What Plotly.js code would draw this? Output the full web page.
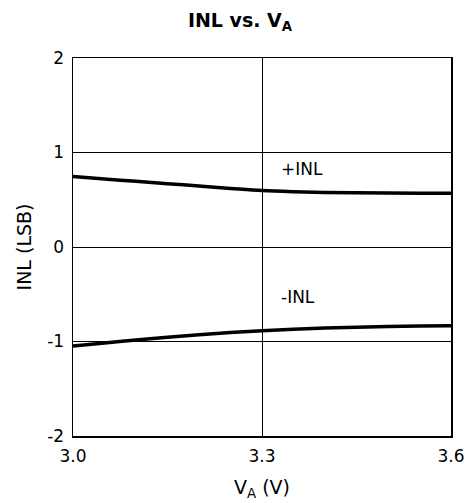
<!DOCTYPE html>
<html>
<head>
<meta charset="utf-8">
<script src="https://cdn.plot.ly/plotly-3.0.1.min.js"></script>
<style>html,body{margin:0;padding:0;background:#fff;}#chart{width:473px;height:503px;}</style>
</head>
<body>
<div id="chart"></div>
<script>
const vA = [3.0, 3.05, 3.1, 3.15, 3.2, 3.25, 3.3, 3.35, 3.4, 3.45, 3.5, 3.55, 3.6];
const inlPos = [0.745, 0.72, 0.695, 0.67, 0.645, 0.62, 0.597, 0.585, 0.578, 0.574, 0.571, 0.569, 0.568];
const inlNeg = [-1.048, -1.015, -0.985, -0.955, -0.928, -0.905, -0.885, -0.87, -0.858, -0.848, -0.841, -0.836, -0.833];
const xTicks = [3.0, 3.3, 3.6];
const xTickText = ['3.0', '3.3', '3.6'];
const yTicks = [-2, -1, 0, 1, 2];
const yTickText = ['-2', '-1', '0', '1', '2'];
const labels = [{x: 3.364, y: 0.825, text: '+INL'}, {x: 3.357, y: -0.53, text: '-INL'}];

const fam = 'DejaVu Sans, Liberation Sans, sans-serif';
const f = (size) => ({family: fam, size: size, color: '#000'});
const data = [
  {x: vA, y: inlPos, mode: 'lines', line: {color: '#000', width: 3.5, shape: 'spline'}, showlegend: false, hoverinfo: 'skip'},
  {x: vA, y: inlNeg, mode: 'lines', line: {color: '#000', width: 3.5, shape: 'spline'}, showlegend: false, hoverinfo: 'skip'}
];
const layout = {
  width: 473, height: 503,
  margin: {l: 73, r: 22, t: 58, b: 67},
  paper_bgcolor: '#fff', plot_bgcolor: '#fff',
  font: f(17),
  title: {text: '<b>INL vs. V<sub>A</sub></b>', x: 240/473, xanchor: 'center', xref: 'container', y: 1 - 20/503, yanchor: 'middle', yref: 'container', font: f(19)},
  xaxis: {
    range: [3.0, 3.6], tickvals: xTicks, ticktext: xTickText,
    showgrid: true, gridcolor: '#000', gridwidth: 1,
    showline: true, linecolor: '#000', linewidth: 1.5, mirror: true,
    ticks: '', zeroline: false, tickfont: f(17), ticklabelstandoff: 4,
    title: {text: 'V<sub>A</sub> (V)', font: f(19), standoff: 16}
  },
  yaxis: {
    range: [-2, 2], tickvals: yTicks, ticktext: yTickText,
    showgrid: true, gridcolor: '#000', gridwidth: 1,
    showline: true, linecolor: '#000', linewidth: 1.5, mirror: true,
    ticks: '', zeroline: false, tickfont: f(17), ticklabelstandoff: 4,
    title: {text: 'INL (LSB)', font: f(19), standoff: 10}
  },
  annotations: labels.map(l => ({x: l.x, y: l.y, text: l.text, showarrow: false, xref: 'x', yref: 'y', font: f(17)}))
};
Plotly.newPlot('chart', data, layout, {displayModeBar: false, staticPlot: true});
</script>
</body>
</html>
